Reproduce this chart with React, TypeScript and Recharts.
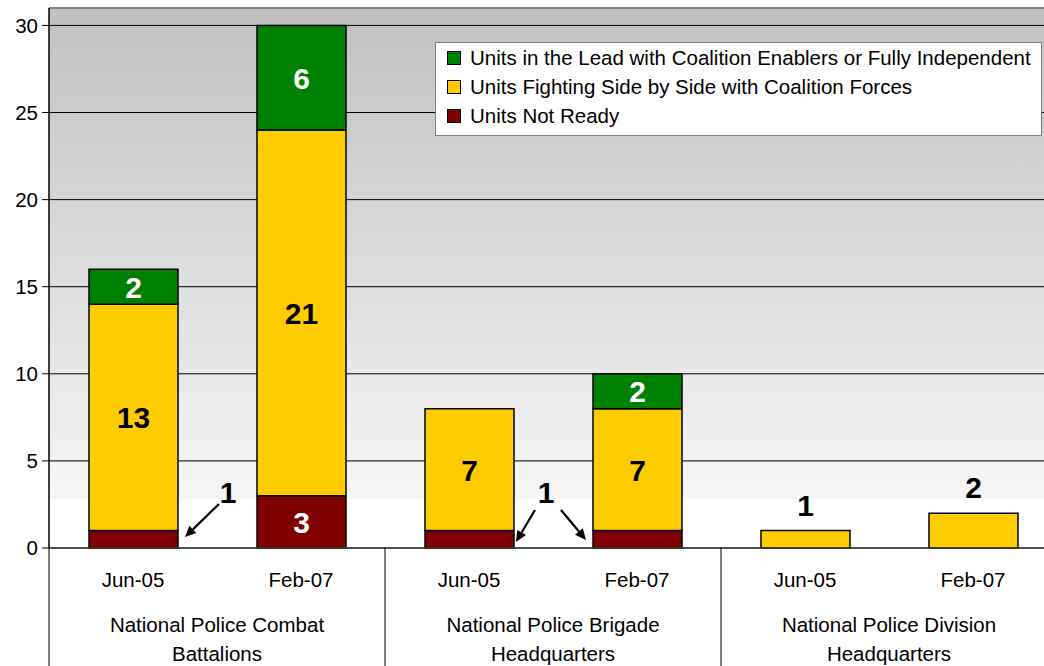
import React from 'react';
import { BarChart, Bar, XAxis, YAxis, CartesianGrid, LabelList, ReferenceLine } from 'recharts';

const categories = ['Jun-05', 'Feb-07', 'Jun-05', 'Feb-07', 'Jun-05', 'Feb-07'];
const groups = ['Combat', 'Combat', 'Brigade', 'Brigade', 'Division', 'Division'];
const groupLines: Record<string, string[]> = {
  Combat: ['National Police Combat', 'Battalions'],
  Brigade: ['National Police Brigade', 'Headquarters'],
  Division: ['National Police Division', 'Headquarters'],
};
const notReady = [1, 3, 1, 1, 0, 0];
const fighting = [13, 21, 7, 7, 1, 2];
const lead = [2, 6, 0, 2, 0, 0];
const yTicks = [0, 5, 10, 15, 20, 25, 30];

const series = [
  { key: 'lead', name: 'Units in the Lead with Coalition Enablers or Fully Independent', color: '#008000' },
  { key: 'fighting', name: 'Units Fighting Side by Side with Coalition Forces', color: '#FFCC00' },
  { key: 'notReady', name: 'Units Not Ready', color: '#800000' },
];

const data = categories.map((c, i) => ({
  cat: `${c}-${i}`,
  label: c,
  group: groups[i],
  notReady: notReady[i],
  fighting: fighting[i],
  lead: lead[i],
}));

const FONT = '"Liberation Sans", Arial, sans-serif';
const BOLD = 30;

const centerLabel = (fill: string) => (props: any) => {
  const { x, y, width, height, value } = props;
  if (!value || !height) return null;
  return (
    <text x={x + width / 2} y={y + height / 2 + 11} textAnchor="middle" fill={fill}
      fontFamily={FONT} fontWeight="bold" fontSize={BOLD}>{value}</text>
  );
};

const fightingLabel = (props: any) => {
  const { x, y, width, height, value, index } = props;
  if (!value || !height) return null;
  if (index >= 4) {
    return (
      <text x={x + width / 2} y={y - 15} textAnchor="middle" fill="#000"
        fontFamily={FONT} fontWeight="bold" fontSize={BOLD}>{value}</text>
    );
  }
  return (
    <text x={x + width / 2} y={y + height / 2 + 11} textAnchor="middle" fill="#000"
      fontFamily={FONT} fontWeight="bold" fontSize={BOLD}>{value}</text>
  );
};

const Arrow = ({ x1, y1, x2, y2 }: { x1: number; y1: number; x2: number; y2: number }) => {
  const ang = Math.atan2(y2 - y1, x2 - x1);
  const L = 11, W = 5;
  const bx = x2 - L * Math.cos(ang), by = y2 - L * Math.sin(ang);
  const px = -Math.sin(ang) * W, py = Math.cos(ang) * W;
  return (
    <g>
      <line x1={x1} y1={y1} x2={bx} y2={by} stroke="#000" strokeWidth={2.2} />
      <polygon points={`${x2},${y2} ${bx + px},${by + py} ${bx - px},${by - py}`} fill="#000" />
    </g>
  );
};

const notReadyLabel = (props: any) => {
  const { x, y, width, height, value, index } = props;
  if (!value || !height) return null;
  const right = x + width;
  const bottom = y + height;
  if (index === 1) {
    return (
      <text x={x + width / 2} y={y + height / 2 + 11} textAnchor="middle" fill="#fff"
        fontFamily={FONT} fontWeight="bold" fontSize={BOLD}>{value}</text>
    );
  }
  if (index === 0) {
    return (
      <g>
        <text x={right + 50} y={bottom - 45} textAnchor="middle" fill="#000"
          fontFamily={FONT} fontWeight="bold" fontSize={BOLD}>{value}</text>
        <Arrow x1={right + 41} y1={bottom - 44} x2={right + 7} y2={bottom - 11} />
      </g>
    );
  }
  if (index === 2) {
    return (
      <g>
        <text x={right + 32} y={bottom - 45} textAnchor="middle" fill="#000"
          fontFamily={FONT} fontWeight="bold" fontSize={BOLD}>{value}</text>
        <Arrow x1={right + 21} y1={bottom - 38} x2={right + 2} y2={bottom - 6} />
      </g>
    );
  }
  if (index === 3) {
    return <Arrow x1={x - 32} y1={bottom - 38} x2={x - 7} y2={bottom - 8} />;
  }
  return null;
};

const DateTick = (props: any) => {
  const { x, y, payload, index } = props;
  const off = payload.offset || 0;
  const label = data[index] ? data[index].label : '';
  return (
    <g>
      <text x={x} y={y + 39} textAnchor="middle" fill="#000" fontFamily={FONT} fontSize={20.5}>{label}</text>
      {index % 2 === 0 && (
        <line x1={x - off} y1={y} x2={x - off} y2={y + 118} stroke="#000" strokeWidth={1} />
      )}
      {index === data.length - 1 && (
        <line x1={x + off} y1={y} x2={x + off} y2={y + 118} stroke="#000" strokeWidth={1} />
      )}
    </g>
  );
};

const GroupTick = (props: any) => {
  const { x, y, payload } = props;
  const lines = groupLines[payload.value] || [];
  return (
    <g>
      {lines.map((l, i) => (
        <text key={i} x={x} y={y + 34 + i * 29} textAnchor="middle" fill="#000" fontFamily={FONT} fontSize={20.5}>{l}</text>
      ))}
    </g>
  );
};

const LegendBox = () => (
  <div style={{
    position: 'absolute', left: 435, top: 42, width: 607, height: 94,
    background: '#fff', border: '1px solid #808080', boxSizing: 'border-box',
    fontFamily: FONT, fontSize: 20.5, color: '#000',
  }}>
    {series.map((s, i) => (
      <div key={s.key} style={{ position: 'absolute', left: 0, top: 2 + i * 29, height: 26, display: 'flex', alignItems: 'center', whiteSpace: 'nowrap' }}>
        <span style={{ display: 'inline-block', width: 12, height: 12, background: s.color, border: '1px solid #000', marginLeft: 11, marginRight: 9 }} />
        <span>{s.name}</span>
      </div>
    ))}
  </div>
);

export default function App() {
  return (
    <div style={{ position: 'absolute', left: 0, top: 0, width: 1044, height: 666, overflow: 'hidden', background: '#fff' }}>
      <BarChart width={1060} height={666} data={data} margin={{ top: 8, right: 3, left: 0, bottom: 0 }} barSize={89}>
        <defs>
          <linearGradient id="bg" x1="0" y1="0" x2="0" y2="1">
            <stop offset="0" stopColor="#c0c0c0" />
            <stop offset="0.91" stopColor="#f6f6f6" />
            <stop offset="0.91" stopColor="#ffffff" />
            <stop offset="1" stopColor="#ffffff" />
          </linearGradient>
        </defs>
        <CartesianGrid vertical={false} stroke="#000" strokeWidth={1} fill="url(#bg)" fillOpacity={1} />
        <ReferenceLine y={31} stroke="#808080" strokeWidth={2} />
        <XAxis dataKey="cat" height={50} tickSize={0} tickMargin={0} tick={<DateTick />}
          axisLine={{ stroke: '#404040', strokeWidth: 1.5 }} interval={0} />
        <XAxis xAxisId="group" dataKey="group" allowDuplicatedCategory={false} height={68}
          tickSize={0} tickMargin={0} tick={<GroupTick />} axisLine={false} tickLine={false} interval={0} />
        <YAxis domain={[0, 31]} ticks={yTicks} width={49} tickSize={7} tickMargin={4}
          axisLine={{ stroke: '#000', strokeWidth: 1.5 }} tickLine={{ stroke: '#000' }}
          tick={{ fill: '#000', fontFamily: FONT, fontSize: 20.5 }} interval={0} />
        <Bar dataKey="notReady" stackId="a" fill="#800000" stroke="#000" strokeWidth={1.5} isAnimationActive={false}>
          <LabelList dataKey="notReady" content={notReadyLabel} />
        </Bar>
        <Bar dataKey="fighting" stackId="a" fill="#FFCC00" stroke="#000" strokeWidth={1.5} isAnimationActive={false}>
          <LabelList dataKey="fighting" content={fightingLabel} />
        </Bar>
        <Bar dataKey="lead" stackId="a" fill="#008000" stroke="#000" strokeWidth={1.5} isAnimationActive={false}>
          <LabelList dataKey="lead" content={centerLabel('#fff')} />
        </Bar>
      </BarChart>
      <LegendBox />
    </div>
  );
}
